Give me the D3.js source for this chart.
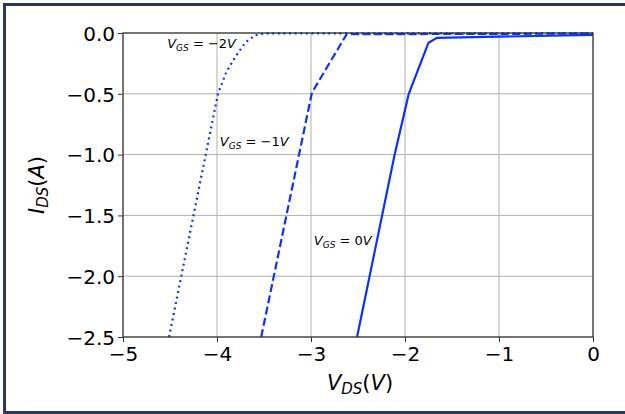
<!DOCTYPE html>
<html><head><meta charset="utf-8">
<script src="https://cdn.jsdelivr.net/npm/d3@7"></script>
<style>
body{margin:0;background:#fff;}
svg{display:block;font-family:"DejaVu Sans",sans-serif;}
</style></head>
<body><svg id="c" width="625" height="414"></svg>
<script>
const xTicks = [-5,-4,-3,-2,-1,0];
const yTicks = [0.0,-0.5,-1.0,-1.5,-2.0,-2.5];
const yTickLabels = ["0.0","−0.5","−1.0","−1.5","−2.0","−2.5"];
const xTickLabels = ["−5","−4","−3","−2","−1","0"];

const vgs0_x = [-2.51,-2.11,-1.96,-1.75,-1.66,0];
const vgs0_y = [-2.5,-1.0,-0.5,-0.08,-0.04,-0.015];
const vgs1_x = [-3.53,-2.99,-2.62,0];
const vgs1_y = [-2.5,-0.49,-0.01,-0.005];
const vgs2_x = [-4.51,-3.99,-3.9,-3.8,-3.7,-3.6,-3.5,0];
const vgs2_y = [-2.5,-0.5,-0.32,-0.19,-0.08,-0.02,-0.003,-0.002];

const labels = [
  {sub:"GS", val:"−2", x:-4.53, y:-0.12},
  {sub:"GS", val:"−1", x:-3.97, y:-0.93},
  {sub:"GS", val:"0", x:-2.97, y:-1.74}
];

const svg = d3.select("#c");
const L=123,R=593,T=33,B=337;
const x = d3.scaleLinear().domain([-5,0]).range([L,R]);
const y = d3.scaleLinear().domain([-2.5,0]).range([B,T]);

// outer frame
svg.append("rect").attr("x",4.5).attr("y",4.5).attr("width",640).attr("height",408)
  .attr("fill","none").attr("stroke","#2a3a5e").attr("stroke-width",3);

// grid
svg.append("g").selectAll("line").data(xTicks).join("line")
  .attr("x1",d=>x(d)).attr("x2",d=>x(d)).attr("y1",T).attr("y2",B)
  .attr("stroke","#b0b0b0").attr("stroke-width",1);
svg.append("g").selectAll("line").data(yTicks).join("line")
  .attr("y1",d=>y(d)).attr("y2",d=>y(d)).attr("x1",L).attr("x2",R)
  .attr("stroke","#b0b0b0").attr("stroke-width",1);

// axes
const xa = svg.append("g").attr("transform",`translate(0,${B})`)
  .call(d3.axisBottom(x).tickValues(xTicks).tickSize(5).tickSizeOuter(0).tickFormat((d,i)=>xTickLabels[i]));
const ya = svg.append("g").attr("transform",`translate(${L},0)`)
  .call(d3.axisLeft(y).tickValues(yTicks).tickSize(5).tickSizeOuter(0).tickFormat((d,i)=>yTickLabels[i]));
[xa,ya].forEach(a=>{
  a.select(".domain").remove();
  a.selectAll("line").attr("stroke","#333");
  a.selectAll("text").attr("font-family","DejaVu Sans").attr("font-size",20).attr("fill","#000");
});
xa.selectAll("text").attr("dy","0.95em").attr("y",5);
ya.selectAll("text").attr("x",-8).attr("dy","0.36em");

// lines
const mk = (xs,ys)=>xs.map((v,i)=>[v,ys[i]]);
const line = d3.line().x(d=>x(d[0])).y(d=>y(d[1]));
const blue = "#0a32ff";
svg.append("path").attr("d",line(mk(vgs2_x,vgs2_y))).attr("fill","none").attr("stroke",blue)
  .attr("stroke-width",2.2).attr("stroke-dasharray","2,3.6").attr("stroke-linecap","butt");
svg.append("path").attr("d",line(mk(vgs1_x,vgs1_y))).attr("fill","none").attr("stroke",blue)
  .attr("stroke-width",2.2).attr("stroke-dasharray","8,3.5");
svg.append("path").attr("d",line(mk(vgs0_x,vgs0_y))).attr("fill","none").attr("stroke",blue)
  .attr("stroke-width",2.2);

// spines
svg.append("rect").attr("x",L).attr("y",T).attr("width",R-L).attr("height",B-T)
  .attr("fill","none").attr("stroke","#333").attr("stroke-width",1.2);

// annotations
labels.forEach(l=>{
  const t = svg.append("text").attr("x",x(l.x)).attr("y",y(l.y)).attr("font-size",13).attr("fill","#000");
  t.append("tspan").attr("font-style","italic").text("V");
  t.append("tspan").attr("font-style","italic").attr("font-size",9).attr("dy",3).text("GS");
  t.append("tspan").attr("dy",-3).text(" = " + l.val);
  t.append("tspan").attr("font-style","italic").text("V");
});

// axis labels
const xl = svg.append("text").attr("x",360).attr("y",390).attr("text-anchor","middle").attr("font-size",21);
xl.append("tspan").attr("font-style","italic").text("V");
xl.append("tspan").attr("font-style","italic").attr("font-size",15).attr("dy",4).text("DS");
xl.append("tspan").attr("dy",-4).text("(");
xl.append("tspan").attr("font-style","italic").text("V");
xl.append("tspan").text(")");

const yl = svg.append("text").attr("transform","translate(44,185) rotate(-90)").attr("text-anchor","middle").attr("font-size",21);
yl.append("tspan").attr("font-style","italic").text("I");
yl.append("tspan").attr("font-style","italic").attr("font-size",15).attr("dy",4).text("DS");
yl.append("tspan").attr("dy",-4).text("(");
yl.append("tspan").attr("font-style","italic").text("A");
yl.append("tspan").text(")");
</script></body></html>
